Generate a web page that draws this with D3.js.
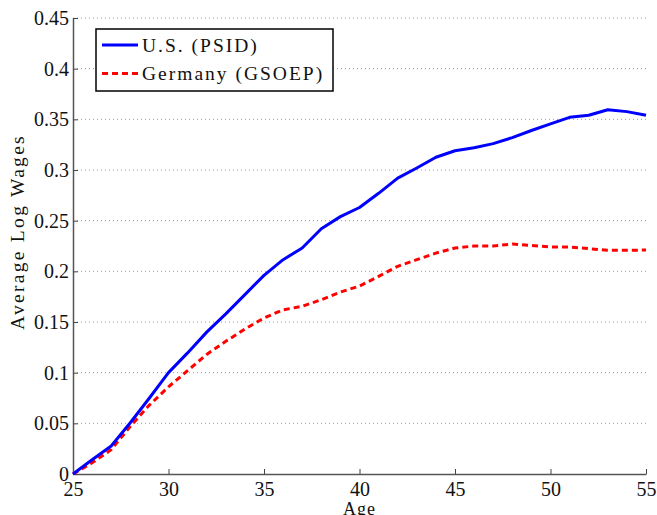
<!DOCTYPE html>
<html>
<head>
<meta charset="utf-8">
<script src="https://cdn.jsdelivr.net/npm/d3@7"></script>
<style>
  html, body { margin: 0; padding: 0; background: #fff; }
  svg { display: block; }
  svg text { font-family: "Liberation Serif", "Times New Roman", serif !important; fill: #111; }
</style>
</head>
<body>
<svg id="chart" width="657" height="515"></svg>
<script>
// Age profile of average log wages, relative to age 25
const ages = d3.range(25, 56);
const usWages = [0, 0.014, 0.0276, 0.0506, 0.075, 0.1, 0.1195, 0.14, 0.158, 0.177,
  0.196, 0.2115, 0.223, 0.242, 0.254, 0.263, 0.277, 0.292, 0.302, 0.3126,
  0.319, 0.322, 0.326, 0.332, 0.339, 0.3455, 0.352, 0.354, 0.3595, 0.3576, 0.354];
const germanyWages = [0, 0.011, 0.024, 0.047, 0.068, 0.086, 0.102, 0.118, 0.131, 0.143,
  0.154, 0.162, 0.1655, 0.172, 0.1795, 0.1855, 0.195, 0.205, 0.2115, 0.218,
  0.223, 0.225, 0.225, 0.227, 0.2255, 0.224, 0.224, 0.2224, 0.2207, 0.2207, 0.221];
const xTicks = [25, 30, 35, 40, 45, 50, 55];
const yTicks = [0, 0.05, 0.1, 0.15, 0.2, 0.25, 0.3, 0.35, 0.4, 0.45];
const yTickLabels = ["0", "0.05", "0.1", "0.15", "0.2", "0.25", "0.3", "0.35", "0.4", "0.45"];
const seriesNames = ["U.S. (PSID)", "Germany (GSOEP)"];

const svg = d3.select("#chart");
const plotLeft = 73, plotRight = 646, plotTop = 18, plotBottom = 474;

const x = d3.scaleLinear().domain([25, 55]).range([plotLeft, plotRight]);
const y = d3.scaleLinear().domain([0, 0.45]).range([plotBottom, plotTop]);

// dotted horizontal grid
svg.append("g")
  .selectAll("line")
  .data(yTicks.filter(d => d > 0))
  .join("line")
  .attr("x1", plotLeft).attr("x2", plotRight)
  .attr("y1", d => y(d)).attr("y2", d => y(d))
  .attr("stroke", "#9a9a9a")
  .attr("stroke-width", 1)
  .attr("stroke-dasharray", "1,3");

// axes
const xAxis = d3.axisBottom(x).tickValues(xTicks).tickSizeInner(-5).tickSizeOuter(0)
  .tickFormat(d3.format("d"));
const yAxis = d3.axisLeft(y).tickValues(yTicks).tickSizeInner(-5).tickSizeOuter(0)
  .tickFormat((d, i) => yTickLabels[i]);

const gx = svg.append("g").attr("transform", `translate(0,${plotBottom})`).call(xAxis);
const gy = svg.append("g").attr("transform", `translate(${plotLeft},0)`).call(yAxis);

[gx, gy].forEach(g => {
  g.attr("font-family", null);
  g.select(".domain").attr("stroke", "#555").attr("stroke-width", 1.5);
  g.selectAll(".tick line").attr("stroke", "#444").attr("stroke-width", 1);
  g.selectAll(".tick text")
    .attr("font-size", 20)
    .attr("fill", "#111");
});
gx.selectAll(".tick text").attr("y", 8).attr("dy", "0.71em");
gy.selectAll(".tick text").attr("x", -4).attr("dy", "0.32em");

// axis titles
svg.append("text")
  .attr("x", (plotLeft + plotRight) / 2).attr("y", 515)
  .attr("text-anchor", "middle")
  .attr("font-size", 18)
  .attr("letter-spacing", 1)
  .text("Age");

svg.append("text")
  .attr("transform", `translate(24,${(plotTop + plotBottom) / 2 - 14}) rotate(-90)`)
  .attr("text-anchor", "middle")
  .attr("font-size", 19.5)
  .attr("letter-spacing", 2.3)
  .text("Average Log Wages");

// series lines
const line = d3.line().x((d, i) => x(ages[i])).y(d => y(d));

svg.append("path")
  .datum(germanyWages)
  .attr("fill", "none")
  .attr("stroke", "#ff0000")
  .attr("stroke-width", 3)
  .attr("stroke-dasharray", "6,4")
  .attr("d", line);

svg.append("path")
  .datum(usWages)
  .attr("fill", "none")
  .attr("stroke", "#0000ff")
  .attr("stroke-width", 3)
  .attr("stroke-linejoin", "round")
  .attr("d", line);

// legend
const legend = svg.append("g").attr("transform", "translate(96,29)");
legend.append("rect")
  .attr("width", 237).attr("height", 62)
  .attr("fill", "#fff").attr("stroke", "#000").attr("stroke-width", 1.5);

const styles = [
  { color: "#0000ff", dash: null },
  { color: "#ff0000", dash: "6,4" }
];
seriesNames.forEach((name, i) => {
  const cy = 16 + i * 28.5;
  legend.append("line")
    .attr("x1", 6).attr("x2", 42).attr("y1", cy).attr("y2", cy)
    .attr("stroke", styles[i].color).attr("stroke-width", 3)
    .attr("stroke-dasharray", styles[i].dash);
  legend.append("text")
    .attr("x", 46).attr("y", cy).attr("dy", "0.35em")
    .attr("font-size", 19.5)
    .attr("letter-spacing", 2)
    .text(name);
});
</script>
</body>
</html>
